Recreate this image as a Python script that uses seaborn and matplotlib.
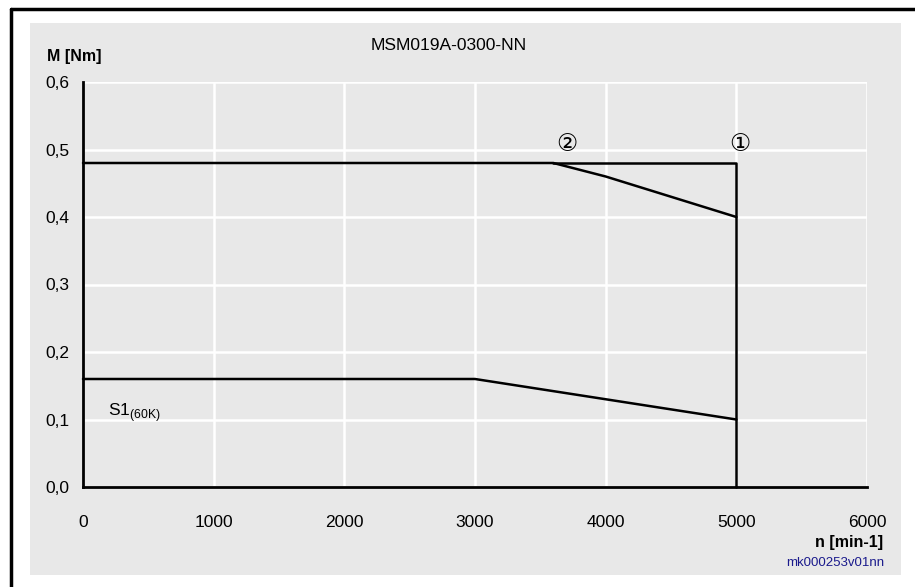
import matplotlib
matplotlib.use("Agg")
import matplotlib.pyplot as plt
import seaborn as sns
import pandas as pd
from matplotlib.patches import Rectangle
from matplotlib.lines import Line2D

# Data
title = "MSM019A-0300-NN"
x_ticks = [0, 1000, 2000, 3000, 4000, 5000, 6000]
y_ticks = [0.0, 0.1, 0.2, 0.3, 0.4, 0.5, 0.6]
y_tick_labels = ["0,0", "0,1", "0,2", "0,3", "0,4", "0,5", "0,6"]

# peak torque curve (2)
speed_peak = [0, 3600, 4000, 5000]
torque_peak = [0.48, 0.48, 0.46, 0.40]
# voltage limit / max speed envelope (1)
speed_limit = [3600, 5000, 5000]
torque_limit = [0.48, 0.48, 0.0]
# continuous S1 curve
speed_s1 = [0, 3000, 5000]
torque_s1 = [0.16, 0.16, 0.10]

bg = "#e8e8e8"
sns.set_style("darkgrid", {"axes.facecolor": bg, "grid.color": "white"})
plt.rcParams["font.family"] = ["Liberation Sans", "DejaVu Sans", "Noto Sans CJK SC"]
plt.rcParams["text.color"] = "black"

fig = plt.figure(figsize=(9.15, 5.87), dpi=100)
fig.patches.append(Rectangle((30 / 915, 12 / 587), 871 / 915, 552 / 587,
                             transform=fig.transFigure, facecolor=bg,
                             edgecolor="none", zorder=-2))
fig.lines.append(Line2D([10.5 / 915, 10.5 / 915], [0, 578 / 587],
                        transform=fig.transFigure, color="black", lw=2.5))
fig.lines.append(Line2D([10.5 / 915, 1.0], [578 / 587, 578 / 587],
                        transform=fig.transFigure, color="black", lw=2.5))

ax = fig.add_axes([83 / 915, 100 / 587, 784 / 915, 405 / 587])

curves = [
    pd.DataFrame({"n": speed_peak, "M": torque_peak}),
    pd.DataFrame({"n": speed_limit, "M": torque_limit}),
    pd.DataFrame({"n": speed_s1, "M": torque_s1}),
]
for df in curves:
    sns.lineplot(data=df, x="n", y="M", ax=ax, color="black", linewidth=1.8,
                 sort=False, estimator=None, clip_on=False)

ax.set_xlim(0, 6000)
ax.set_ylim(0, 0.6)
ax.set_xticks(x_ticks)
ax.set_yticks(y_ticks)
ax.set_yticklabels(y_tick_labels)
ax.set_xlabel("")
ax.set_ylabel("")
ax.grid(True, color="white", linewidth=1.8)
for side in ["top", "right"]:
    ax.spines[side].set_visible(False)
for side in ["left", "bottom"]:
    ax.spines[side].set_visible(True)
    ax.spines[side].set_color("black")
    ax.spines[side].set_linewidth(2)
ax.tick_params(axis="both", colors="black", direction="out", length=5,
               width=1.8, labelsize=12.5)
ax.tick_params(axis="x", pad=15)
ax.tick_params(axis="y", pad=5)

fig.text(449 / 915, 1 - 45 / 587, title, ha="center", va="center", fontsize=12.5)
fig.text(47 / 915, 1 - 57 / 587, "M [Nm]", fontsize=11.5, fontweight="bold",
         ha="left", va="center")
fig.text(883 / 915, 1 - 543 / 587, "n [min-1]", fontsize=11.5, fontweight="bold",
         ha="right", va="center")
fig.text(884 / 915, 1 - 563 / 587, "mk000253v01nn", fontsize=9.5,
         color="#1a1a8c", ha="right", va="center")

ax.text(190, 0.11, r"S1$_{\mathregular{(60K)}}$", fontsize=12.5, ha="left",
        va="center")
ax.text(3705, 0.507, "\u2461", fontsize=17, ha="center", va="center")
ax.text(5025, 0.507, "\u2460", fontsize=17, ha="center", va="center")

fig.savefig("out.png", dpi=100)
